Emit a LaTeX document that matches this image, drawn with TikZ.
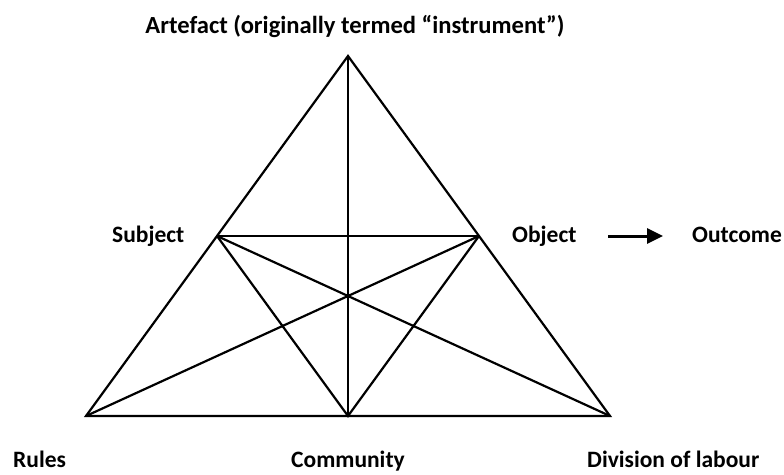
\documentclass[tikz,border=0pt]{standalone}
\usepackage{fontspec}
\setmainfont{Carlito}
\usetikzlibrary{calc, arrows.meta}

\tikzset{
	corner/.style={font=\fontsize{23.5}{28}\selectfont\bfseries, inner sep=0pt},
	edge/.style={line width=2.2pt, line join=miter},
}

\begin{document}
\begin{tikzpicture}[x=1pt, y=-1pt]
					\useasboundingbox (0,0) rectangle (784,474);
					
					% vertices of the triangle
					\coordinate (apex) at (348,56);
					\coordinate (rules) at (86,416);
					\coordinate (labour) at (610,416);
					\coordinate (community) at ($(rules)!0.5!(labour)$);
					\coordinate (subject) at ($(apex)!0.5!(rules)$);
					\coordinate (object) at ($(apex)!0.5!(labour)$);
					
					\begin{scope}[edge]
						\draw (apex) -- (rules) -- (labour) -- cycle;
						\draw (apex) -- (community);
						\draw (subject) -- (object);
						\draw (subject) -- (community) -- (object);
						\draw (subject) -- (labour);
						\draw (object) -- (rules);
					\end{scope}
					
					% labels
					\begin{scope}[corner]
						\node [anchor=base, font=\fontsize{24.6}{29}\selectfont\bfseries] (artefactlabel) at (355,33) {Artefact (originally termed “instrument”)};
						\node [anchor=base west] (subjectlabel) at (112,242) {Subject};
						\node [anchor=base west] (objectlabel) at (512,242) {Object};
						\node [anchor=base west] (outcomelabel) at (692,242) {Outcome};
						\node [anchor=base west] (ruleslabel) at (13,467) {Rules};
						\node [anchor=base] (communitylabel) at (348,467) {Community};
						\node [anchor=base west] (labourlabel) at (587,467) {Division of labour};
					\end{scope}
					
					\coordinate (outtail) at (608,236);
					\coordinate (outtip) at (663,236);
					\draw [line width=3pt, -{Triangle[length=16pt, width=15pt]}] (outtail) -- (outtip);
				\end{tikzpicture}
\end{document}
